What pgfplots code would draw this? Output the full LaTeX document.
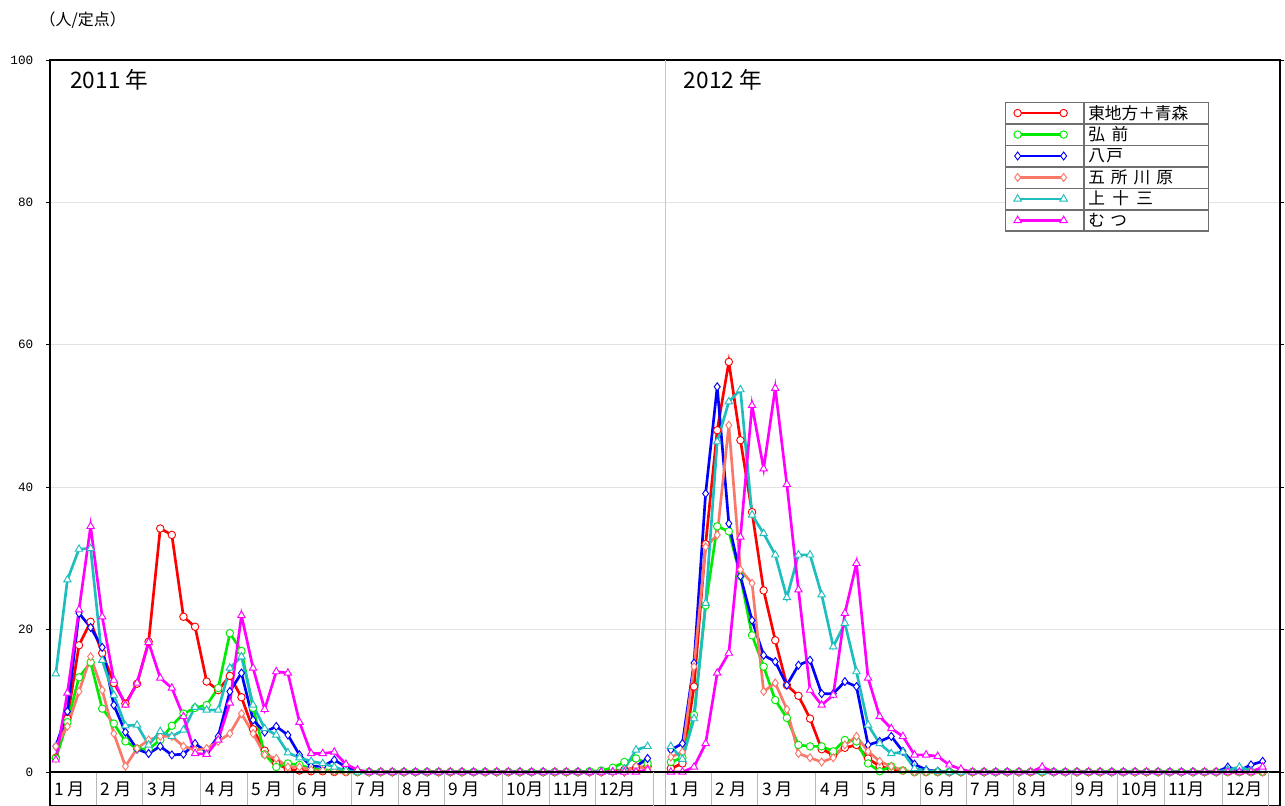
\documentclass[border=0pt]{standalone}
\usepackage{fontspec}
\setmainfont{Noto Sans CJK JP}
\newfontfamily\numfont{Liberation Mono}
\usepackage{pgfplots}
\usepackage{pgfplotstable}
\pgfplotsset{compat=1.18}

\definecolor{cRed}{RGB}{255,0,0}
\definecolor{cGreen}{RGB}{0,235,0}
\definecolor{cBlue}{RGB}{0,0,255}
\definecolor{cSalmon}{RGB}{250,120,105}
\definecolor{cCyan}{RGB}{30,190,190}
\definecolor{cMagenta}{RGB}{255,0,255}
\definecolor{frame}{RGB}{110,110,110}

% weekly slots: 0-51 = 2011, 52 = empty, 53-104 = 2012, 105 = empty
\pgfplotstableread{
i red green blue salmon cyan magenta
0 2.0 1.9 3.6 3.6 13.8 1.7
1 7.5 7.0 8.5 6.4 27.0 11.1
2 17.8 13.3 22.3 11.3 31.3 22.8
3 21.1 15.4 20.3 16.2 31.4 34.5
4 16.7 8.9 17.5 11.5 15.7 21.8
5 12.5 6.8 9.4 5.4 10.8 12.9
6 9.6 4.3 5.6 0.8 6.5 9.4
7 12.4 3.3 3.2 3.3 6.6 12.5
8 18.3 3.2 2.6 4.5 3.8 18.2
9 34.2 4.5 3.6 5.0 5.7 13.2
10 33.3 6.5 2.4 5.0 5.0 11.8
11 21.8 8.2 2.5 3.6 5.9 7.8
12 20.4 9.0 4.0 3.1 9.1 2.6
13 12.7 9.4 2.8 3.3 8.7 2.5
14 11.5 11.8 5.0 4.3 8.7 4.5
15 13.5 19.5 11.3 5.4 14.6 9.7
16 10.5 17.0 13.9 8.2 16.2 22.0
17 6.0 9.0 7.3 5.4 9.4 14.6
18 3.0 2.5 5.6 2.4 6.1 8.8
19 1.2 0.7 6.4 1.9 5.2 14.1
20 0.4 1.2 5.2 0.7 2.7 13.9
21 0.2 1.0 2.4 0.7 2.0 7.0
22 0.1 0.5 0.8 0.3 1.5 2.6
23 0.1 0.3 0.8 0.2 1.2 2.6
24 0.0 0.2 1.7 0.1 0.7 2.8
25 0.0 0.1 0.7 0.0 0.2 1.1
26 0 0 0.1 0 0 0.3
27 0 0 0 0 0 0
28 0 0 0 0 0 0
29 0 0 0 0 0 0
30 0 0 0 0 0 0
31 0 0 0 0 0 0
32 0 0 0 0 0 0
33 0 0 0 0 0 0
34 0 0 0 0 0 0
35 0 0 0 0 0 0
36 0 0 0 0 0 0
37 0 0 0 0 0 0
38 0 0 0 0 0 0
39 0 0 0 0 0 0
40 0 0 0 0 0 0
41 0 0 0 0 0 0
42 0 0 0 0 0 0
43 0 0 0 0 0 0
44 0 0 0 0 0 0
45 0 0 0 0 0 0
46 0 0.1 0 0 0 0
47 0 0.2 0 0 0 0
48 0.2 0.6 0 0 0 0
49 0.3 1.4 0 0 0.4 0
50 0.6 1.9 0.8 0.8 3.1 0
51 0.8 1.2 1.9 0.5 3.6 0.3
52 nan nan nan nan nan nan
53 0.5 1.4 3.1 2.1 3.6 0
54 1.2 2.0 4.0 2.8 1.8 0
55 12.0 8.0 15.3 14.8 7.5 0.7
56 32.0 23.4 39.1 31.6 23.7 4.0
57 48.0 34.5 54.1 33.3 46.4 13.9
58 57.6 33.8 34.9 48.7 52.0 16.7
59 46.6 27.5 27.5 28.4 53.7 33.0
60 36.5 19.2 21.3 26.5 36.1 51.5
61 25.5 14.8 16.4 11.3 33.5 42.6
62 18.5 10.1 15.5 12.5 30.5 53.9
63 12.2 7.6 12.2 8.8 24.5 40.4
64 10.7 3.8 15.0 2.6 30.5 25.6
65 7.5 3.6 15.7 2.0 30.5 11.5
66 3.2 3.6 11.0 1.4 24.9 9.4
67 2.4 2.9 11.0 2.0 17.6 10.8
68 3.4 4.5 12.7 3.8 20.9 22.3
69 3.8 4.3 12.0 5.0 14.1 29.3
70 1.9 1.2 3.8 2.9 6.6 13.2
71 0.8 0.1 4.3 1.5 4.0 7.8
72 0.4 0.8 5.0 0.8 2.6 6.1
73 0.2 0.2 2.9 0.2 2.8 5.0
74 0 0 1.1 0 0.5 2.4
75 0 0 0.3 0 0.2 2.4
76 0 0 0.1 0 0.1 2.2
77 0 0 0 0 0 1.0
78 0 0 0 0 0 0.4
79 0 0 0 0 0 0
80 0 0 0 0 0 0
81 0 0 0 0 0 0
82 0 0 0 0 0 0
83 0 0 0 0 0 0
84 0 0 0 0 0 0
85 0 0 0 0 0 0.7
86 0 0 0 0 0 0
87 0 0 0 0 0 0
88 0 0 0 0 0 0
89 0 0 0 0 0 0
90 0 0 0 0 0 0
91 0 0 0 0 0 0
92 0 0 0 0 0 0
93 0 0 0 0 0 0
94 0 0 0 0 0 0
95 0 0 0 0 0 0
96 0 0 0 0 0 0
97 0 0 0 0 0 0
98 0 0 0 0 0 0
99 0 0 0 0 0 0
100 0 0 0 0 0 0
101 0 0 0.7 0 0.3 0
102 0 0 0.2 0 0.7 0
103 0 0 1.0 0 0.2 0
104 0 0 1.5 0 0.4 0.7
105 nan nan nan nan nan nan
}\flu

\pgfplotsset{
  ser/.style={line width=2pt, mark size=2.8pt,
    mark options={solid, fill=white, line width=0.7pt}},
}

\begin{document}
\begin{tikzpicture}
\useasboundingbox (-37.5pt,-25.5pt) rectangle (926.25pt,579pt);

\begin{axis}[
  name=main, at={(0,0)}, anchor=south west,
  scale only axis, width=922.5pt, height=534pt,
  xmin=-0.5, xmax=105.5, ymin=0, ymax=100,
  xtick=\empty, minor xtick={-0.5,0.5,...,105.5},
  ytick={0,20,...,100},
  xtick pos=left, ytick pos=both, yticklabel pos=left,
  tick align=outside, major tick length=3pt, minor tick length=2.5pt,
  tick style={black, line width=0.6pt},
  ymajorgrids, grid style={gray!22, line width=0.7pt},
  axis line style={line width=1.1pt},
  /pgf/number format/assume math mode=true,
  yticklabel style={font=\numfont\fontsize{9.5}{10}\selectfont, xshift=-6pt},
  unbounded coords=jump, clip=false,
  legend image code/.code={
    \draw[frame, line width=0.5pt, solid] (0pt,-7.8pt) rectangle (58.5pt,7.8pt);
    \draw plot coordinates {(9pt,0pt) (43.5pt,0pt)};
  },
  legend cell align=left,
  legend style={
    at={(rel axis cs:0.7764,0.941)}, anchor=north west,
    draw=frame, line width=0.5pt, fill=white,
    inner sep=0pt, row sep=0pt, column sep=0pt,
    font=\fontsize{12.5}{14}\selectfont,
    nodes={draw=frame, line width=0.5pt, inner xsep=3pt, inner ysep=0pt,
      minimum height=15.6pt, text width=87pt, align=left},
  },
]
\draw[gray!45, line width=0.7pt] (axis cs:52.5,0) -- (axis cs:52.5,100);

\addplot[cRed, ser, mark=*] table[x=i, y=red] {\flu};
\addplot[cGreen, ser, mark=*] table[x=i, y=green] {\flu};
\addplot[cBlue, ser, mark=diamond*, mark size=3pt] table[x=i, y=blue] {\flu};
\addplot[cSalmon, ser, mark=diamond*, mark size=3pt] table[x=i, y=salmon] {\flu};
\addplot[cCyan, ser, mark=triangle*, mark size=3.2pt] table[x=i, y=cyan] {\flu};
\addplot[cMagenta, ser, mark=triangle*, mark size=3.2pt] table[x=i, y=magenta] {\flu};
\legend{東地方＋青森, 弘\hspace{5pt}前, 八\hspace{1pt}戸,
  五\hspace{4.5pt}所\hspace{4.5pt}川\hspace{4.5pt}原, 上\hspace{5.5pt}十\hspace{5.5pt}三, む\hspace{4pt}つ}

\node[anchor=north west, inner sep=0pt, font=\fontsize{17}{19}\selectfont,
  xshift=15pt, yshift=-7pt] at (rel axis cs:0,1) {2011 年};
\node[anchor=north west, inner sep=0pt, font=\fontsize{17}{19}\selectfont,
  xshift=14pt, yshift=-7pt] at (axis cs:52.5,100) {2012 年};
\node[anchor=west, inner sep=0pt, font=\fontsize{12}{14}\selectfont,
  xshift=-8pt, yshift=30pt] at (rel axis cs:0,1) {（人/定点）};
\end{axis}

\begin{axis}[
  name=band, at={(main.south west)}, anchor=north west,
  scale only axis, width=922.5pt, height=25.5pt,
  xmin=-0.5, xmax=105.5, ymin=0, ymax=1,
  ytick=\empty,
  xtick={-0.5,3.5,7.5,12.5,16.5,20.5,25.5,29.5,33.5,38.5,42.5,46.5,
    52.5,56.5,60.5,65.5,69.5,74.5,78.5,82.5,87.5,91.5,95.5,100.5},
  xticklabels={1 月,2 月,3 月,4 月,5 月,6 月,7 月,8 月,9 月,10月,11月,12月,
    1 月,2 月,3 月,4 月,5 月,6 月,7 月,8 月,9 月,10月,11月,12月},
  extra x ticks={51.5,104.5}, extra x tick labels={},
  extra x tick style={grid=major},
  xmajorgrids, grid style={gray!55, line width=0.6pt},
  major tick length=0pt,
  xticklabel style={anchor=west, xshift=3pt, yshift=12.75pt, inner sep=0pt,
    font=\fontsize{13}{14}\selectfont},
  axis line style={line width=1.1pt},
]
\end{axis}
\end{tikzpicture}
\end{document}
